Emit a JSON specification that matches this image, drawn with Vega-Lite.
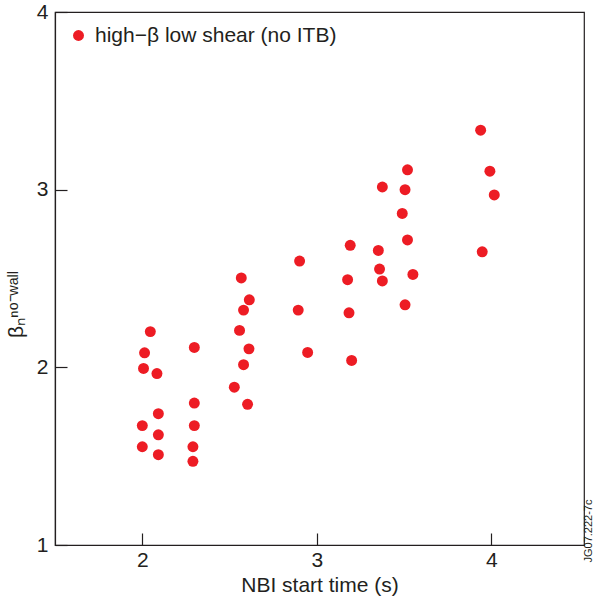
{
  "$schema": "https://vega.github.io/schema/vega-lite/v6.json",
  "width": 529,
  "height": 533,
  "autosize": "none",
  "padding": {"left": 55, "top": 12, "right": 13, "bottom": 54},
  "background": "white",
  "config": {
    "font": "Liberation Sans",
    "view": {"stroke": "#231F20", "strokeWidth": 1.2},
    "axis": {
      "grid": false,
      "domainColor": "#231F20",
      "domainWidth": 1.2,
      "tickColor": "#231F20",
      "tickWidth": 1.2,
      "tickSize": -12,
      "labelFont": "Liberation Sans",
      "labelFontSize": 21,
      "labelColor": "#231F20",
      "titleFont": "Liberation Sans",
      "titleFontSize": 21,
      "titleFontWeight": "normal",
      "titleColor": "#231F20"
    }
  },
  "data": {
    "values": [
      {"t": 2.046, "b": 2.201, "s": "high−β low shear (no ITB)"},
      {"t": 2.013, "b": 2.082, "s": "high−β low shear (no ITB)"},
      {"t": 2.007, "b": 1.994, "s": "high−β low shear (no ITB)"},
      {"t": 2.084, "b": 1.965, "s": "high−β low shear (no ITB)"},
      {"t": 2.298, "b": 2.112, "s": "high−β low shear (no ITB)"},
      {"t": 2.092, "b": 1.739, "s": "high−β low shear (no ITB)"},
      {"t": 2.0, "b": 1.672, "s": "high−β low shear (no ITB)"},
      {"t": 2.092, "b": 1.62, "s": "high−β low shear (no ITB)"},
      {"t": 2.0, "b": 1.553, "s": "high−β low shear (no ITB)"},
      {"t": 2.092, "b": 1.508, "s": "high−β low shear (no ITB)"},
      {"t": 2.298, "b": 1.799, "s": "high−β low shear (no ITB)"},
      {"t": 2.298, "b": 1.672, "s": "high−β low shear (no ITB)"},
      {"t": 2.29, "b": 1.553, "s": "high−β low shear (no ITB)"},
      {"t": 2.29, "b": 1.471, "s": "high−β low shear (no ITB)"},
      {"t": 2.567, "b": 2.503, "s": "high−β low shear (no ITB)"},
      {"t": 2.613, "b": 2.38, "s": "high−β low shear (no ITB)"},
      {"t": 2.58, "b": 2.322, "s": "high−β low shear (no ITB)"},
      {"t": 2.557, "b": 2.208, "s": "high−β low shear (no ITB)"},
      {"t": 2.611, "b": 2.104, "s": "high−β low shear (no ITB)"},
      {"t": 2.58, "b": 2.015, "s": "high−β low shear (no ITB)"},
      {"t": 2.527, "b": 1.888, "s": "high−β low shear (no ITB)"},
      {"t": 2.603, "b": 1.792, "s": "high−β low shear (no ITB)"},
      {"t": 2.901, "b": 2.598, "s": "high−β low shear (no ITB)"},
      {"t": 2.893, "b": 2.322, "s": "high−β low shear (no ITB)"},
      {"t": 2.947, "b": 2.084, "s": "high−β low shear (no ITB)"},
      {"t": 3.191, "b": 2.687, "s": "high−β low shear (no ITB)"},
      {"t": 3.176, "b": 2.493, "s": "high−β low shear (no ITB)"},
      {"t": 3.184, "b": 2.307, "s": "high−β low shear (no ITB)"},
      {"t": 3.199, "b": 2.039, "s": "high−β low shear (no ITB)"},
      {"t": 3.375, "b": 3.015, "s": "high−β low shear (no ITB)"},
      {"t": 3.505, "b": 3.0, "s": "high−β low shear (no ITB)"},
      {"t": 3.519, "b": 3.112, "s": "high−β low shear (no ITB)"},
      {"t": 3.489, "b": 2.866, "s": "high−β low shear (no ITB)"},
      {"t": 3.519, "b": 2.717, "s": "high−β low shear (no ITB)"},
      {"t": 3.352, "b": 2.658, "s": "high−β low shear (no ITB)"},
      {"t": 3.359, "b": 2.553, "s": "high−β low shear (no ITB)"},
      {"t": 3.375, "b": 2.486, "s": "high−β low shear (no ITB)"},
      {"t": 3.55, "b": 2.523, "s": "high−β low shear (no ITB)"},
      {"t": 3.505, "b": 2.352, "s": "high−β low shear (no ITB)"},
      {"t": 3.938, "b": 3.335, "s": "high−β low shear (no ITB)"},
      {"t": 3.991, "b": 3.104, "s": "high−β low shear (no ITB)"},
      {"t": 4.016, "b": 2.97, "s": "high−β low shear (no ITB)"},
      {"t": 3.947, "b": 2.65, "s": "high−β low shear (no ITB)"}
    ]
  },
  "layer": [
    {
      "mark": {"type": "point", "filled": true, "opacity": 1, "size": 120, "shape": "circle"},
      "encoding": {
        "x": {
          "field": "t", "type": "quantitative",
          "scale": {"domain": [1.5, 4.53], "nice": false, "zero": false},
          "axis": {"values": [2, 3, 4], "format": "d", "title": "NBI start time (s)", "labelPadding": 16, "titlePadding": 4, "labelFlush": false}
        },
        "y": {
          "field": "b", "type": "quantitative",
          "scale": {"domain": [1, 4], "nice": false, "zero": false},
          "axis": {"values": [1, 2, 3, 4], "format": "d", "title": "βₙⁿᵒ⁻ʷᵃˡˡ", "labelPadding": 19, "titlePadding": 10, "titleY": 292}
        },
        "color": {
          "field": "s", "type": "nominal",
          "scale": {"range": ["#ED1C24"]},
          "legend": {
            "orient": "top-left", "offset": 13, "title": null,
            "labelFontSize": 21, "labelFont": "Liberation Sans", "labelColor": "#231F20", "labelLimit": 400,
            "labelOffset": 6, "symbolSize": 120, "symbolType": "circle", "symbolStrokeWidth": 0
          }
        }
      }
    },
    {
      "mark": {"type": "point", "opacity": 0},
      "encoding": {
        "x": {"field": "t", "type": "quantitative", "scale": {"domain": [1.5, 4.53], "nice": false, "zero": false}},
        "y": {
          "field": "b", "type": "quantitative",
          "scale": {"domain": [1, 4], "nice": false, "zero": false},
          "axis": {
            "orient": "right", "labels": false, "ticks": false, "domain": false,
            "title": "JG07.222-7c", "titleFontSize": 11, "titleAngle": 270,
            "titleAnchor": "start", "titleAlign": "left", "titleBaseline": "middle", "titleY": 550, "titlePadding": 4
          }
        }
      }
    }
  ],
  "resolve": {"scale": {"y": "independent"}}
}
